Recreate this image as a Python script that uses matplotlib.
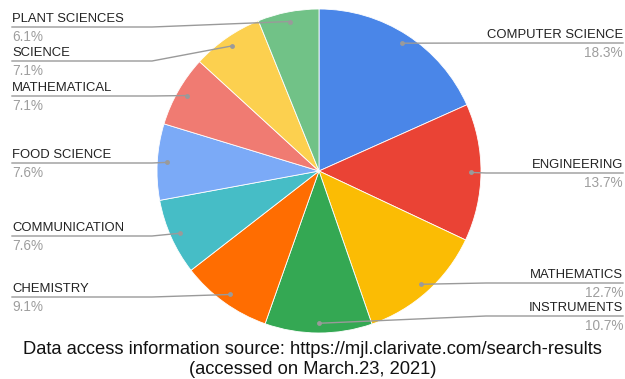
import numpy as np
import matplotlib
matplotlib.use("Agg")
import matplotlib.pyplot as plt

plt.rcParams["font.family"] = ["Liberation Sans", "DejaVu Sans"]

# journal categories and share of titles (%)
categories = ["COMPUTER SCIENCE", "ENGINEERING", "MATHEMATICS", "INSTRUMENTS",
              "CHEMISTRY", "COMMUNICATION", "FOOD SCIENCE", "MATHEMATICAL",
              "SCIENCE", "PLANT SCIENCES"]
shares = [18.3, 13.7, 12.7, 10.7, 9.1, 7.6, 7.6, 7.1, 7.1, 6.1]
colors = ["#4a86e8", "#ea4335", "#fbbc04", "#34a853", "#ff6d01",
          "#46bdc6", "#7baaf7", "#f07b72", "#fcd04f", "#71c287"]

# label placement (pixel rows from the top, side of the pie)
label_rows = [43, 173, 283, 316, 297, 236, 163, 96, 61, 27]
label_side = ["R", "R", "R", "R", "L", "L", "L", "L", "L", "L"]

W, H = 625, 379
CX, CY, R = 319, H - 171, 162
KNEE = {"R": 486, "L": 152}
EDGE = {"R": 623, "L": 12}

fig = plt.figure(figsize=(W / 100, H / 100), dpi=100)
ax = fig.add_axes([0, 0, 1, 1])
ax.pie(shares, colors=colors, startangle=90, counterclock=False,
       center=(CX, CY), radius=R,
       wedgeprops=dict(edgecolor="white", linewidth=0.6))
ax.set_xlim(0, W)
ax.set_ylim(0, H)
ax.set_aspect("auto")
ax.axis("off")

cum = np.cumsum([0] + shares[:-1])
for name, val, start, row, side in zip(categories, shares, cum, label_rows, label_side):
    ang = np.deg2rad((start + val / 2) / 100 * 360)
    dx = CX + 0.94 * R * np.sin(ang)
    dy = CY + 0.94 * R * np.cos(ang)
    ly = H - row
    ax.plot([EDGE[side], KNEE[side], dx], [ly, ly, dy], color="#9a9a9a", lw=1, zorder=3)
    ax.plot(dx, dy, "o", ms=3.5, color="#9a9a9a", mec="none", zorder=4)
    ha = "right" if side == "R" else "left"
    ax.text(EDGE[side], ly + 2, name, ha=ha, va="bottom", fontsize=9.4, color="#222222")
    ax.text(EDGE[side], ly - 3, f"{val}%", ha=ha, va="top", fontsize=9.8, color="#9e9e9e")

ax.text(W / 2, H - 349, "Data access information source: https://mjl.clarivate.com/search-results",
        ha="center", va="center", fontsize=13.2, color="#111111")
ax.text(W / 2, H - 370, "(accessed on March.23, 2021)",
        ha="center", va="center", fontsize=13.2, color="#111111")

fig.savefig("out.png", dpi=100)
